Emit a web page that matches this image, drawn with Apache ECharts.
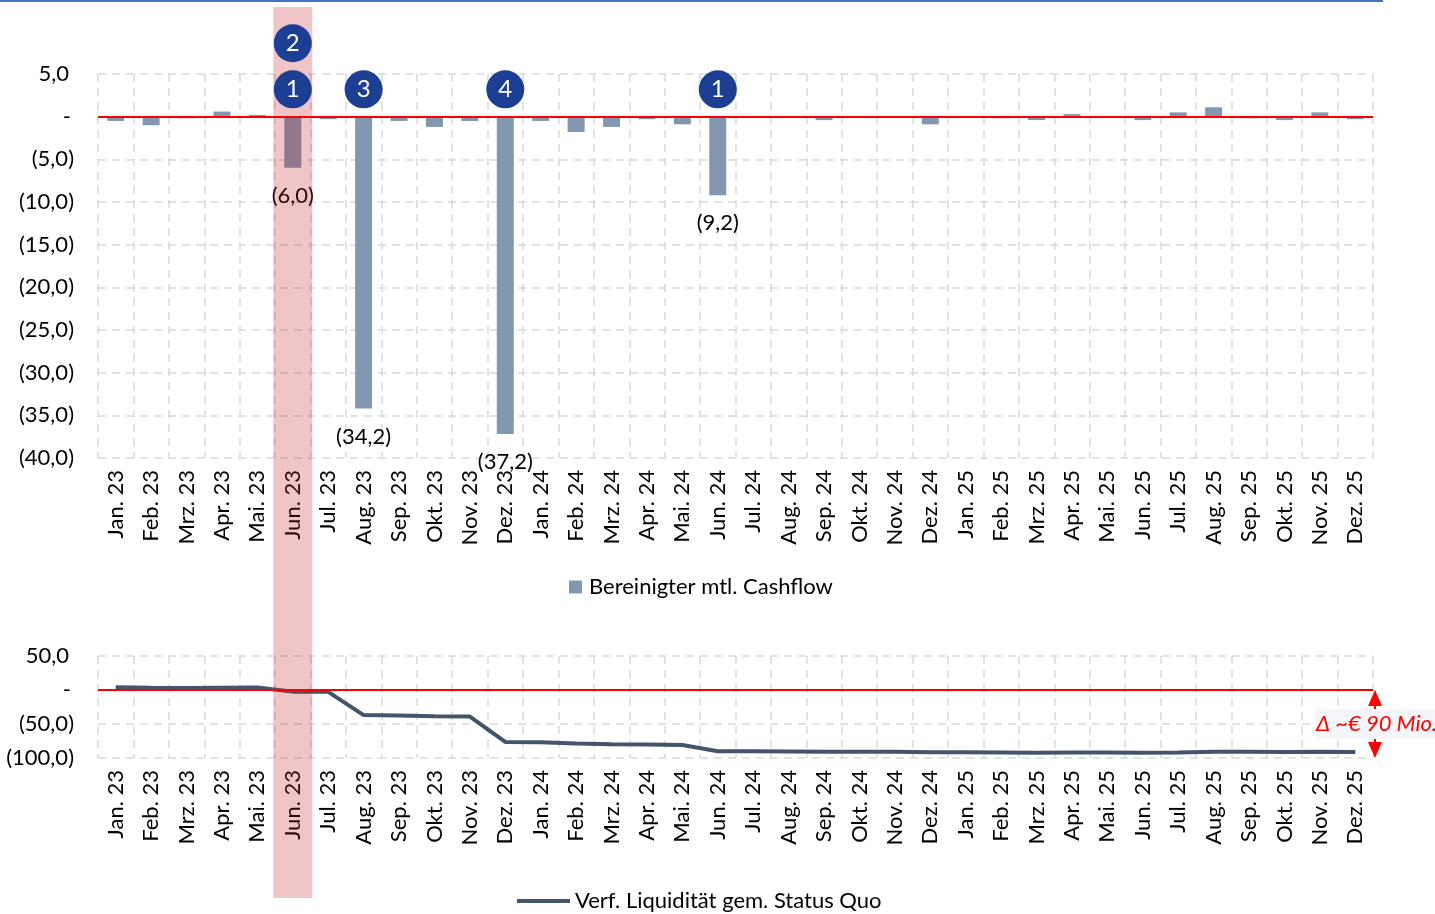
<!DOCTYPE html>
<html>
<head>
<meta charset="utf-8">
<script src="https://cdn.jsdelivr.net/npm/echarts@6/dist/echarts.min.js"></script>
<style>
  html, body { margin: 0; padding: 0; background: #ffffff; }
  #chart { width: 1435px; height: 914px; }
</style>
</head>
<body>
<div id="chart"></div>
<script>
// Months shown on both panels
const months = [
  'Jan. 23', 'Feb. 23', 'Mrz. 23', 'Apr. 23', 'Mai. 23', 'Jun. 23',
  'Jul. 23', 'Aug. 23', 'Sep. 23', 'Okt. 23', 'Nov. 23', 'Dez. 23',
  'Jan. 24', 'Feb. 24', 'Mrz. 24', 'Apr. 24', 'Mai. 24', 'Jun. 24',
  'Jul. 24', 'Aug. 24', 'Sep. 24', 'Okt. 24', 'Nov. 24', 'Dez. 24',
  'Jan. 25', 'Feb. 25', 'Mrz. 25', 'Apr. 25', 'Mai. 25', 'Jun. 25',
  'Jul. 25', 'Aug. 25', 'Sep. 25', 'Okt. 25', 'Nov. 25', 'Dez. 25'
];

// Adjusted monthly cash flow (EUR m)
const cashflow = [
  -0.5, -1.0, -0.2, 0.6, 0.2, -6.0,
  -0.3, -34.2, -0.5, -1.2, -0.5, -37.2,
  -0.5, -1.8, -1.2, -0.3, -0.9, -9.2,
  0.0, -0.1, -0.4, 0.0, 0.0, -0.9,
  0.0, -0.2, -0.4, 0.3, 0.0, -0.4,
  0.5, 1.1, -0.2, -0.4, 0.5, -0.3
];

// Available liquidity, status quo (EUR m)
const liquidity = [
  4.0, 3.2, 2.9, 3.4, 3.6, -2.4,
  -2.7, -36.9, -37.4, -38.6, -39.1, -76.3,
  -76.8, -78.6, -79.8, -80.1, -81.0, -90.2,
  -90.2, -90.3, -90.7, -90.7, -90.7, -91.6,
  -91.6, -91.8, -92.2, -91.9, -91.9, -92.3,
  -91.8, -90.7, -90.9, -91.3, -90.8, -91.1
];

// Months whose bar carries a value label
const labelledMonths = ['Jun. 23', 'Aug. 23', 'Dez. 23', 'Jun. 24'];

// Numbered event markers
const markerMonths = ['Jun. 23', 'Jun. 23', 'Aug. 23', 'Dez. 23', 'Jun. 24'];
const markerNumbers = ['1', '2', '3', '4', '1'];

// Axis ticks
const cashflowAxis = { min: -40, max: 5, interval: 5 };
const liquidityAxis = { min: -100, max: 50, interval: 50 };

const highlightMonth = 'Jun. 23';
const deltaText = 'Δ ~€ 90 Mio.';

const seriesCashflow = 'Bereinigter mtl. Cashflow';
const seriesLiquidity = 'Verf. Liquidität gem. Status Quo';

const FONT = 'Lato, "Noto Sans", sans-serif';
const FS = 22;

// Accounting style: negatives in parentheses, zero as dash, comma decimal
function fmt(v) {
  if (Math.abs(v) < 1e-9) return '-';
  const s = Math.abs(v).toFixed(1).replace('.', ',');
  return v < 0 ? '(' + s + ')' : s;
}
function axisFmt(v) {
  if (Math.abs(v) < 1e-9) return '{z|-}';
  if (v > 0) return '{p|' + fmt(v) + '}';
  return '{n|' + fmt(v) + '}';
}
const axisRich = {
  p: { fontSize: FS, fontFamily: FONT, color: '#000', padding: [0, 5, 0, 0] },
  z: { fontSize: FS, fontFamily: FONT, color: '#000', padding: [0, 3, 0, 0] },
  n: { fontSize: FS, fontFamily: FONT, color: '#000' }
};

const gridDash = { color: '#d9d9d9', width: 1.5, type: [8, 6] };

// Marker rows: repeated months stack upward
const markerLevels = [3.2, 8.6];
const markerData = markerMonths.map((m, i) => {
  const row = markerMonths.slice(0, i).filter(x => x === m).length;
  return { value: [m, markerLevels[row]], name: markerNumbers[i] };
});

const barData = cashflow.map((v, i) => {
  const item = { value: v };
  if (labelledMonths.includes(months[i])) {
    item.label = {
      show: true, position: 'bottom', distance: 17,
      fontSize: FS, fontFamily: FONT, color: '#000',
      formatter: p => fmt(p.value)
    };
  }
  return item;
});

const zeroLine = {
  silent: true, symbol: 'none', label: { show: false },
  lineStyle: { color: '#ff0000', width: 2, type: 'solid' },
  data: [{ yAxis: 0 }]
};

const xAxisCommon = {
  type: 'category', data: months, boundaryGap: true,
  axisLine: { show: false }, axisTick: { show: false },
  axisLabel: { rotate: 90, interval: 0, fontSize: FS, fontFamily: FONT, color: '#000', margin: 12 },
  splitLine: { show: true, interval: 0, lineStyle: gridDash }
};

const chart = echarts.init(document.getElementById('chart'), null, { renderer: 'canvas' });

chart.setOption({
  animation: false,
  backgroundColor: '#ffffff',
  textStyle: { fontFamily: FONT },
  grid: [
    { left: 98, top: 74, width: 1275, height: 384, containLabel: false },
    { left: 98, top: 656, width: 1275, height: 102, containLabel: false }
  ],
  xAxis: [
    Object.assign({ gridIndex: 0 }, xAxisCommon),
    Object.assign({ gridIndex: 1 }, xAxisCommon)
  ],
  yAxis: [
    {
      gridIndex: 0, type: 'value',
      min: cashflowAxis.min, max: cashflowAxis.max, interval: cashflowAxis.interval,
      axisLine: { show: false }, axisTick: { show: false },
      axisLabel: { formatter: axisFmt, rich: axisRich, margin: 24 },
      splitLine: { show: true, lineStyle: gridDash }
    },
    {
      gridIndex: 1, type: 'value',
      min: liquidityAxis.min, max: liquidityAxis.max, interval: liquidityAxis.interval,
      axisLine: { show: false }, axisTick: { show: false },
      axisLabel: { formatter: axisFmt, rich: axisRich, margin: 24 },
      splitLine: { show: true, lineStyle: gridDash }
    }
  ],
  legend: [
    {
      data: [seriesCashflow], left: 569, top: 576, padding: 0,
      icon: 'rect', itemWidth: 13, itemHeight: 13, itemGap: 0,
      textStyle: { fontSize: FS, fontFamily: FONT, color: '#000', padding: [0, 0, 0, 2] },
      selectedMode: false
    },
    {
      data: [seriesLiquidity], left: 517, top: 890, padding: 0,
      icon: 'rect', itemWidth: 53, itemHeight: 4, itemGap: 0,
      textStyle: { fontSize: FS, fontFamily: FONT, color: '#000' },
      selectedMode: false
    }
  ],
  series: [
    {
      name: seriesCashflow, type: 'bar', xAxisIndex: 0, yAxisIndex: 0,
      data: barData, barWidth: 17,
      itemStyle: { color: '#8497b0' },
      markLine: zeroLine, z: 2
    },
    {
      name: 'marker', type: 'scatter', xAxisIndex: 0, yAxisIndex: 0,
      data: markerData, symbolSize: 38, clip: false, silent: true, z: 20,
      itemStyle: { color: '#1c3f94', opacity: 1 },
      label: {
        show: true, position: 'inside', color: '#ffffff',
        fontSize: 24, fontFamily: FONT, formatter: p => p.name
      }
    },
    {
      name: seriesLiquidity, type: 'line', xAxisIndex: 1, yAxisIndex: 1,
      data: liquidity, showSymbol: false, symbol: 'none',
      lineStyle: { color: '#44546a', width: 4 },
      itemStyle: { color: '#44546a' },
      markLine: zeroLine, z: 2
    }
  ]
});

// Overlays placed from the axes' own pixel mapping
function drawOverlays() {
  const cx = chart.convertToPixel({ xAxisIndex: 0 }, highlightMonth);
  const lastX = chart.convertToPixel({ xAxisIndex: 1 }, months[months.length - 1]);
  const firstX = chart.convertToPixel({ xAxisIndex: 1 }, months[0]);
  const step = (lastX - firstX) / (months.length - 1);
  const rightEdge = lastX + step / 2;
  const y0 = chart.convertToPixel({ yAxisIndex: 1 }, 0);
  const yMin = chart.convertToPixel({ yAxisIndex: 1 }, liquidityAxis.min);
  const ax = rightEdge + 2;
  const head = 16, half = 7;

  chart.setOption({
    graphic: [
      {
        type: 'line', z: 30, silent: true,
        shape: { x1: 0, y1: 1, x2: rightEdge + 10, y2: 1 },
        style: { stroke: '#4472c4', lineWidth: 2 }
      },
      {
        type: 'rect', z: 15, silent: true,
        shape: { x: cx - 19.5, y: 7, width: 39, height: 891 },
        style: { fill: 'rgba(191,25,33,0.25)' }
      },
      {
        type: 'line', z: 30, silent: true,
        shape: { x1: ax, y1: y0 + head, x2: ax, y2: yMin - head },
        style: { stroke: '#ff0000', lineWidth: 2 }
      },
      {
        type: 'polygon', z: 30, silent: true,
        shape: { points: [[ax - half, y0 + head], [ax + half, y0 + head], [ax, y0]] },
        style: { fill: '#ff0000' }
      },
      {
        type: 'polygon', z: 30, silent: true,
        shape: { points: [[ax - half, yMin - head], [ax + half, yMin - head], [ax, yMin]] },
        style: { fill: '#ff0000' }
      },
      {
        type: 'rect', z: 31, silent: true,
        shape: { x: rightEdge - 56, y: (y0 + yMin) / 2 - 15, width: 140, height: 30 },
        style: { fill: '#f4f6f9' }
      },
      {
        type: 'text', z: 32, silent: true,
        x: rightEdge - 57, y: (y0 + yMin) / 2,
        style: {
          text: deltaText, fill: '#ff0000', fontSize: FS, fontStyle: 'italic',
          fontFamily: FONT, verticalAlign: 'middle', align: 'left'
        }
      }
    ]
  });
}
drawOverlays();
</script>
</body>
</html>
